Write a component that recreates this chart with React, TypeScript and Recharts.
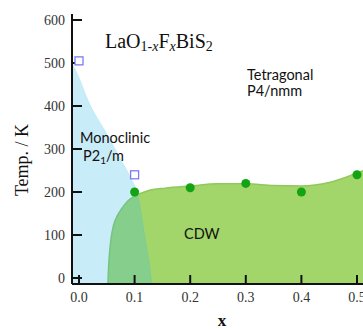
import {
  ComposedChart,
  Area,
  Scatter,
  XAxis,
  YAxis,
} from "recharts";

const X_MIN = -0.0126;
const X_MAX = 0.5126;
const T_MIN = -14;
const T_MAX = 614;

const xTicks = [0, 0.1, 0.2, 0.3, 0.4, 0.5];
const tTicks = [0, 100, 200, 300, 400, 500, 600];

// monoclinic / tetragonal boundary (blue region is below/left of it)
const monoclinicEdge = [
  { x: -0.0126, t: 500 },
  { x: 0.0, t: 466 },
  { x: 0.016, t: 414 },
  { x: 0.049, t: 337 },
  { x: 0.079, t: 267 },
  { x: 0.095, t: 228 },
  { x: 0.103, t: 205 },
  { x: 0.11, t: 168 },
  { x: 0.115, t: 125 },
  { x: 0.122, t: 70 },
  { x: 0.128, t: 20 },
  { x: 0.131, t: -14 },
];

// CDW dome edge
const cdwEdge = [
  { x: 0.052, t: -14 },
  { x: 0.053, t: 20 },
  { x: 0.055, t: 60 },
  { x: 0.058, t: 95 },
  { x: 0.062, t: 122 },
  { x: 0.069, t: 145 },
  { x: 0.076, t: 160 },
  { x: 0.087, t: 178 },
  { x: 0.1, t: 190 },
  { x: 0.124, t: 203 },
  { x: 0.155, t: 209 },
  { x: 0.2, t: 214 },
  { x: 0.25, t: 219 },
  { x: 0.3, t: 219 },
  { x: 0.35, t: 215 },
  { x: 0.4, t: 214 },
  { x: 0.45, t: 222 },
  { x: 0.5, t: 244 },
  { x: 0.5126, t: 250 },
];

const cdwPoints = [
  { x: 0.1, t: 200 },
  { x: 0.2, t: 210 },
  { x: 0.3, t: 220 },
  { x: 0.4, t: 200 },
  { x: 0.5, t: 240 },
];

const structPoints = [
  { x: 0.0, t: 505 },
  { x: 0.1, t: 240 },
];

const serif = "'Liberation Serif', 'DejaVu Serif', serif";
const sans = "Lato, 'Liberation Sans', sans-serif";
const tickStyle = { fontSize: 14, fill: "#333", fontFamily: serif };
const axisLine = { stroke: "#111", strokeWidth: 2 };

const Square = (p: any) => (
  <rect x={p.cx - 4} y={p.cy - 4} width={8} height={8} fill="#fff" stroke="#7c7cf6" strokeWidth={1.3} />
);
const Dot = (p: any) => <circle cx={p.cx} cy={p.cy} r={4.5} fill="#13a313" />;

const note: React.CSSProperties = {
  position: "absolute",
  fontFamily: sans,
  fontSize: 14.5,
  color: "#111",
  lineHeight: "16px",
  whiteSpace: "nowrap",
};
const sub: React.CSSProperties = { fontSize: 14, position: "relative", top: 3 };

export default function App() {
  return (
    <div style={{ position: "fixed", left: 0, top: 0, width: 363, height: 329, overflow: "hidden", background: "#fff" }}>
      <div style={{ position: "absolute", left: 8, top: 8, width: 370, height: 321 }}>
        <ComposedChart width={370} height={321} margin={{ top: 6, right: 0, bottom: 0, left: 0 }}>
          <XAxis
            type="number"
            dataKey="x"
            domain={[X_MIN, X_MAX]}
            ticks={xTicks}
            allowDataOverflow
            tickFormatter={(v: number) => v.toFixed(1)}
            tickSize={-9}
            tickMargin={17}
            height={45}
            axisLine={axisLine}
            tickLine={axisLine}
            tick={tickStyle}
          />
          <XAxis
            xAxisId="top"
            orientation="top"
            type="number"
            domain={[X_MIN, X_MAX]}
            ticks={xTicks}
            allowDataOverflow
            tick={false}
            tickSize={-9}
            height={0}
            axisLine={axisLine}
            tickLine={axisLine}
          />
          <YAxis
            type="number"
            dataKey="t"
            domain={[T_MIN, T_MAX]}
            ticks={tTicks}
            allowDataOverflow
            tickSize={-10}
            tickMargin={17}
            width={64}
            axisLine={axisLine}
            tickLine={axisLine}
            tick={tickStyle}
          />
          <YAxis
            yAxisId="right"
            orientation="right"
            type="number"
            domain={[T_MIN, T_MAX]}
            ticks={tTicks}
            allowDataOverflow
            tick={false}
            tickSize={-9}
            width={14}
            axisLine={axisLine}
            tickLine={axisLine}
          />
          <Area
            data={cdwEdge}
            dataKey="t"
            type="monotone"
            baseValue="dataMin"
            fill="#a2d66a"
            fillOpacity={1}
            stroke="#8fc85c"
            strokeWidth={1.5}
            isAnimationActive={false}
          />
          <Area
            data={monoclinicEdge}
            dataKey="t"
            type="monotone"
            baseValue="dataMin"
            fill="#37b9e9"
            fillOpacity={0.27}
            stroke="#37b9e9"
            strokeOpacity={0.15}
            isAnimationActive={false}
          />
          <Scatter data={cdwPoints} dataKey="t" shape={Dot} isAnimationActive={false} />
          <Scatter data={structPoints} dataKey="t" shape={Square} isAnimationActive={false} />
        </ComposedChart>

        <div style={{ position: "absolute", left: 97, top: 23, fontFamily: serif, fontSize: 20, lineHeight: "20px", color: "#111", whiteSpace: "nowrap" }}>
          LaO
          <span style={sub}>
            1-<i>x</i>
          </span>
          F
          <span style={sub}>
            <i>x</i>
          </span>
          BiS
          <span style={sub}>2</span>
        </div>

        <div style={{ ...note, left: 239, top: 59 }}>
          Tetragonal
          <br />
          P4/nmm
        </div>
        <div style={{ ...note, left: 72, top: 122 }}>Monoclinic</div>
        <div style={{ ...note, left: 75, top: 140 }}>
          P2<span style={{ fontSize: 10, position: "relative", top: 3 }}>1</span>/m
        </div>
        <div style={{ ...note, left: 176, top: 218 }}>CDW</div>

        <div
          style={{
            position: "absolute",
            left: 14,
            top: 152,
            transform: "translate(-50%, -50%) rotate(-90deg)",
            fontFamily: serif,
            fontSize: 18,
            color: "#111",
            whiteSpace: "nowrap",
            lineHeight: "18px",
          }}
        >
          Temp. / K
        </div>
        <div
          style={{
            position: "absolute",
            left: 214,
            top: 304,
            transform: "translateX(-50%)",
            fontFamily: serif,
            fontSize: 17,
            fontWeight: "bold",
            color: "#111",
            lineHeight: "17px",
          }}
        >
          x
        </div>
      </div>
    </div>
  );
}
